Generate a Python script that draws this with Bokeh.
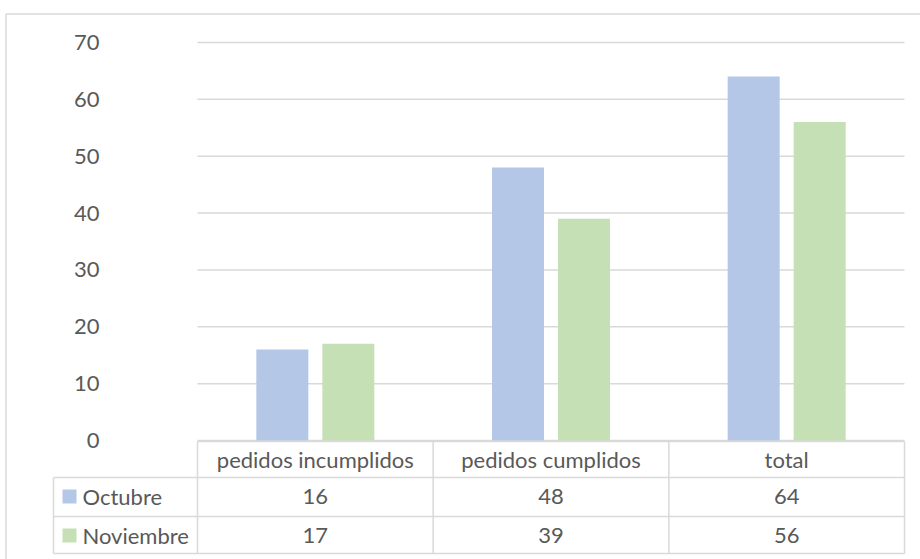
from bokeh.plotting import figure
from bokeh.models import ColumnDataSource, Range1d
from bokeh.core.properties import value
from bokeh.embed import file_html
from bokeh.resources import INLINE

# ---- data ----
categories = ["pedidos incumplidos", "pedidos cumplidos", "total"]
series_names = ["Octubre", "Noviembre"]
octubre = [16, 48, 64]
noviembre = [17, 39, 56]
y_ticks = [0, 10, 20, 30, 40, 50, 60, 70]

# ---- style ----
COLORS = ["#B4C7E7", "#C5E0B4"]
TEXT = "#595959"
GRID = "#D9D9D9"
FONT = "Lato"
FS = "22px"

W, H = 920, 559
X0_PX = 197.0            # left edge of the first category column
CAT_PX = (904.0 - 197.0) / 3.0
Y0_PX = 440.0            # pixel of value 0
PX_PER_UNIT = (440.0 - 42.0) / 70.0


def dx(px):
    return (px - X0_PX) / CAT_PX


def dy(py):
    return (Y0_PX - py) / PX_PER_UNIT


p = figure(width=W, height=H,
           x_range=Range1d(dx(0), dx(W)), y_range=Range1d(dy(H), dy(0)),
           output_backend="svg", toolbar_location=None,
           x_axis_type=None, y_axis_type=None,
           min_border=0, outline_line_color=None)
p.background_fill_color = "white"
p.border_fill_color = "white"

n = len(categories)

# outer border (top and left visible)
p.segment(x0=[dx(5.5), dx(5.5)], y0=[dy(13.5), dy(13.5)],
          x1=[dx(W), dx(5.5)], y1=[dy(13.5), dy(H)],
          line_color=GRID, line_width=1.5)

# gridlines
p.segment(x0=[0] * len(y_ticks), x1=[n] * len(y_ticks), y0=y_ticks, y1=y_ticks,
          line_color=GRID, line_width=1.5)

# y tick labels
p.text(x=[dx(99)] * len(y_ticks), y=y_ticks, text=[str(t) for t in y_ticks],
       text_align="right", text_baseline="middle", text_color=TEXT,
       text_font=value(FONT), text_font_size=FS)

# bars
BAR_W = 52.0 / CAT_PX
OFF = 33.0 / CAT_PX
centers = [i + 0.5 for i in range(n)]
for k, (vals, col) in enumerate(zip([octubre, noviembre], COLORS)):
    off = -OFF if k == 0 else OFF
    src = ColumnDataSource(dict(x=[c + off for c in centers], top=vals))
    p.vbar(x="x", top="top", bottom=0, width=BAR_W, source=src,
           fill_color=col, line_color=None)

# ---- data table ----
row_px = [441, 477, 516, 553]
row_y = [dy(v) for v in row_px]
left_leg = dx(53)
# horizontal lines
p.segment(x0=[0, left_leg, left_leg, left_leg], x1=[n] * 4,
          y0=row_y, y1=row_y, line_color=GRID, line_width=1.5)
# vertical lines
vx = [left_leg] + list(range(n + 1))
vy0 = [row_y[1]] + [row_y[0]] * (n + 1)
p.segment(x0=vx, x1=vx, y0=vy0, y1=[row_y[3]] * len(vx),
          line_color=GRID, line_width=1.5)

# header texts
p.text(x=centers, y=[dy(459)] * n, text=categories,
       text_align="center", text_baseline="middle", text_color=TEXT,
       text_font=value(FONT), text_font_size=FS)

row_centers = [dy(496), dy(535)]
for k, vals in enumerate([octubre, noviembre]):
    p.text(x=centers, y=[row_centers[k]] * n, text=[str(v) for v in vals],
           text_align="center", text_baseline="middle", text_color=TEXT,
           text_font=value(FONT), text_font_size=FS)

# legend column
p.rect(x=[dx(69)] * 2, y=row_centers, width=14, height=14,
       width_units="screen", height_units="screen",
       fill_color=COLORS, line_color=None)
p.text(x=[dx(82)] * 2, y=row_centers, text=series_names,
       text_align="left", text_baseline="middle", text_color=TEXT,
       text_font=value(FONT), text_font_size=FS)

open("out.html", "w").write(file_html(p, INLINE))
